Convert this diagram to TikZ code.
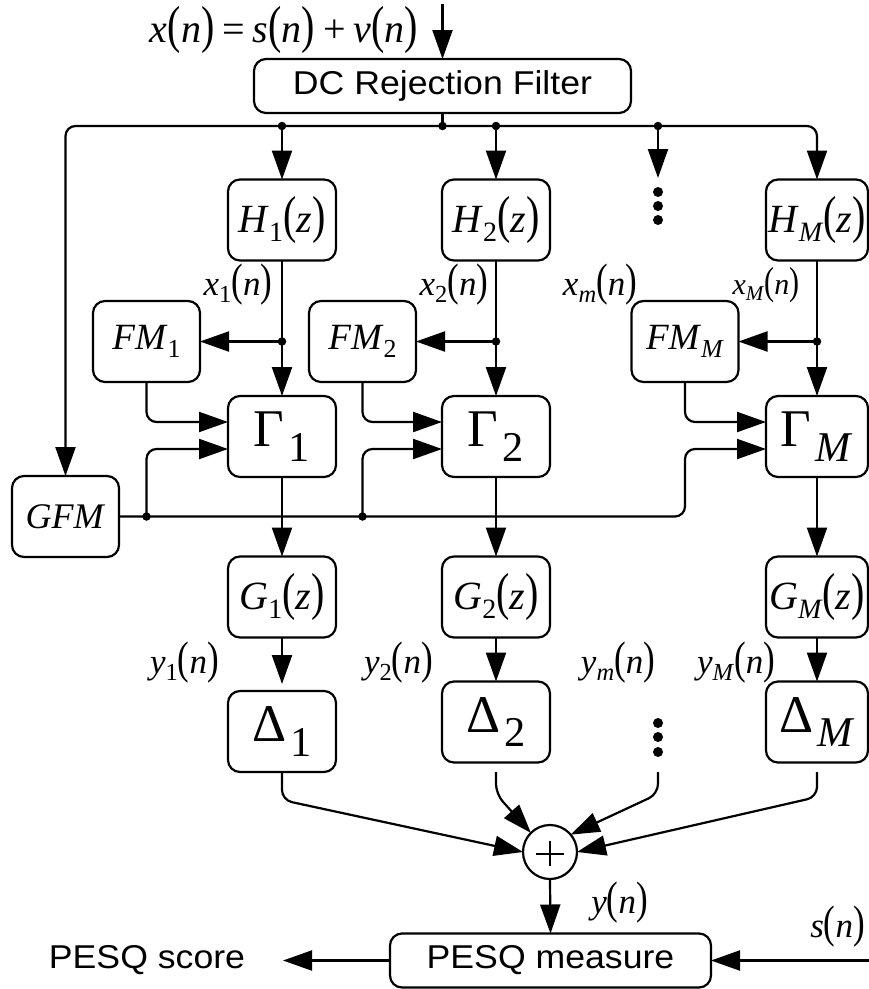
\documentclass[tikz,border=0pt]{standalone}
\usepackage{graphicx}
\usepackage{fontspec}
\setmainfont{Liberation Serif}
\newfontfamily\sansf[FakeStretch=1.08]{Liberation Sans}
\usetikzlibrary{arrows.meta}
\newcommand\lp{\scalebox{1}[1.3]{(}}
\newcommand\rp{\scalebox{1}[1.3]{)}}
\newcommand\sbs[1]{\raisebox{-0.22em}{\scalebox{0.7}{#1}}}
\newcommand\gsb[1]{\hspace{0.08em}\raisebox{-0.27em}{\scalebox{0.8}{#1}}}
\newcommand\iv[1]{\textit{#1}}
\newcommand\thsp{\hspace{0.2em}}
\begin{document}
\begin{tikzpicture}[x=1pt,y=-1pt,
 every node/.style={inner sep=0pt, outer sep=0pt},
 blk/.style={draw, line width=2.2pt, rounded corners=12pt, minimum width=108pt, minimum height=81pt, font=\fontsize{40}{44}\selectfont},
 fmblk/.style={blk, minimum width=107pt, font=\fontsize{37}{40}\selectfont},
 wide/.style={draw, line width=2.2pt, rounded corners=12pt, minimum height=54pt, font=\sansf\fontsize{33}{36}\selectfont},
 bigs/.style={font=\fontsize{53}{60}\selectfont},
 sig/.style={anchor=base, font=\fontsize{35}{38}\selectfont},
 conn/.style={line width=2.2pt, rounded corners=10pt},
 arr/.style={conn, -{Triangle[length=29pt,width=20pt]}},
 jdot/.style={circle, fill, minimum size=8.5pt},
 vdot/.style={circle, fill, minimum size=10pt},
]
\useasboundingbox (0,0) rectangle (869,989);

% level coordinates
\coordinate (ybus) at (0,126);
\coordinate (yfm) at (0,422);
\coordinate (yg) at (0,449);
\coordinate (yd1) at (0,684);
\coordinate (yb) at (0,772);

% top
\node[wide, minimum width=377pt] (dc) at (442.5,86) {DC Rejection Filter};
\node[anchor=base, font=\fontsize{40}{44}\selectfont] (xl) at (284,42)
  {\iv{x}\lp\iv{n}\rp\thsp=\thsp\iv{s}\lp\iv{n}\rp\thsp+\thsp\iv{v}\lp\iv{n}\rp};
\coordinate (in) at (442.5,4);
\draw[arr] (in) -- (dc.north);

% filter bank boxes
\node[blk] (h1) at (282,220) {\iv{H}\sbs{1}\lp\iv{z}\rp};
\node[blk] (h2) at (496,220) {\iv{H}\sbs{2}\lp\iv{z}\rp};
\node[blk, minimum width=102pt] (hM) at (817,220) {\iv{H}\sbs{\iv{M}}\lp\iv{z}\rp};

\node[fmblk] (fm1) at (146.5,341.5) {\iv{FM}\sbs{1}};
\node[fmblk] (fm2) at (362.5,341.5) {\iv{FM}\sbs{2}};
\node[fmblk] (fmM) at (685,341.5) {\iv{FM}\sbs{\iv{M}}};

\node[blk, bigs] (g1) at (282,436.5) {Γ\gsb{1}};
\node[blk, bigs] (g2) at (496,436.5) {Γ\gsb{2}};
\node[blk, bigs, minimum width=102pt] (gM) at (817,436.5) {Γ\gsb{\iv{M}}};

\node[fmblk, font=\fontsize{36}{40}\selectfont] (gfm) at (65.5,516.5) {\iv{GFM}};

\node[blk] (G1) at (282,597) {\iv{G}\sbs{1}\lp\iv{z}\rp};
\node[blk] (G2) at (496,597) {\iv{G}\sbs{2}\lp\iv{z}\rp};
\node[blk, minimum width=102pt] (GM) at (817,597) {\iv{G}\sbs{\iv{M}}\lp\iv{z}\rp};

\node[blk, bigs] (d1) at (282,731.5) {Δ\gsb{1}};
\node[blk, bigs] (d2) at (496,722) {Δ\gsb{2}};
\node[blk, bigs, minimum width=102pt] (dM) at (817,722) {Δ\gsb{\iv{M}}};

\node[draw, circle, line width=2.2pt, minimum size=54pt] (sum) at (550,852) {};
\draw[line width=1.6pt] ([xshift=-14pt,yshift=-2pt]sum.center) -- ([xshift=14pt,yshift=-2pt]sum.center);
\draw[line width=1.6pt] ([yshift=-14pt]sum.center) -- ([yshift=11pt]sum.center);

\node[wide, minimum width=321pt] (pesq) at (550.5,960.5) {PESQ measure};
\node[font=\sansf\fontsize{33}{36}\selectfont] (score) at (147,960.5) {PESQ score};

% signal labels
\node[sig] (lx1) at (238,295) {\iv{x}\sbs{1}\lp\iv{n}\rp};
\node[sig] (lx2) at (454,295) {\iv{x}\sbs{2}\lp\iv{n}\rp};
\node[sig] (lxm) at (600,295) {\iv{x}\sbs{\iv{m}}\lp\iv{n}\rp};
\node[sig, font=\fontsize{30}{34}\selectfont] (lxM) at (766,294) {\iv{x}\sbs{\iv{M}}\lp\iv{n}\rp};
\node[sig] (ly1) at (184.5,673) {\iv{y}\sbs{1}\lp\iv{n}\rp};
\node[sig] (ly2) at (398.5,673) {\iv{y}\sbs{2}\lp\iv{n}\rp};
\node[sig] (lym) at (618,673) {\iv{y}\sbs{\iv{m}}\lp\iv{n}\rp};
\node[sig] (lyM) at (736,673) {\iv{y}\sbs{\iv{M}}\lp\iv{n}\rp};
\node[sig] (ly) at (619.5,913) {\iv{y}\lp\iv{n}\rp};
\node[sig] (ls) at (837.5,937) {\iv{s}\lp\iv{n}\rp};

% distribution bus
\coordinate (bus) at (dc.south |- ybus);
\coordinate (dcol) at (658,126);
\draw[conn] (dc.south) -- (bus);
\draw[arr] (bus) -- (gfm.north |- ybus) -- (gfm.north);
\draw[arr] (bus) -- (hM.north |- ybus) -- (hM.north);
\draw[arr] (h1.north |- ybus) -- (h1.north);
\draw[arr] (h2.north |- ybus) -- (h2.north);
\coordinate (dtip) at (658,178);
\draw[arr] (dcol) -- (dtip);
\node[jdot] at (bus) {};
\node[jdot] at (h1.north |- ybus) {};
\node[jdot] at (h2.north |- ybus) {};
\node[jdot] at (dcol) {};
\node[vdot] (e1) at (658,192) {};
\node[vdot] (e2) at (658,206) {};
\node[vdot] (e3) at (658,220) {};

% H -> Gamma with taps to FM
\draw[arr] (h1.south) -- (g1.north);
\draw[arr] (h2.south) -- (g2.north);
\draw[arr] (hM.south) -- (gM.north);
\draw[arr] (h1.south |- fm1.east) -- (fm1.east);
\draw[arr] (h2.south |- fm2.east) -- (fm2.east);
\draw[arr] (hM.south |- fmM.east) -- (fmM.east);
\node[jdot] at (h1.south |- fm1.east) {};
\node[jdot] at (h2.south |- fm2.east) {};
\node[jdot] at (hM.south |- fmM.east) {};

% FM -> Gamma
\draw[arr] (fm1.south) -- (fm1.south |- yfm) -- (g1.west |- yfm);
\draw[arr] (fm2.south) -- (fm2.south |- yfm) -- (g2.west |- yfm);
\draw[arr] (fmM.south) -- (fmM.south |- yfm) -- (gM.west |- yfm);

% GFM -> Gamma
\draw[arr] (gfm.east) -- (fmM.south |- gfm.east) -- (fmM.south |- yg) -- (gM.west |- yg);
\draw[arr] (fm1.south |- gfm.east) -- (fm1.south |- yg) -- (g1.west |- yg);
\draw[arr] (fm2.south |- gfm.east) -- (fm2.south |- yg) -- (g2.west |- yg);
\node[jdot] at (fm1.south |- gfm.east) {};
\node[jdot] at (fm2.south |- gfm.east) {};

% Gamma -> G -> Delta
\draw[arr] (g1.south) -- (G1.north);
\draw[arr] (g2.south) -- (G2.north);
\draw[arr] (gM.south) -- (GM.north);
\draw[arr] (G1.south) -- (G1.south |- yd1);
\draw[arr] (G2.south) -- (d2.north);
\draw[arr] (GM.south) -- (dM.north);

% lower ellipsis
\node[vdot] (f1) at (658,723) {};
\node[vdot] (f2) at (658,737) {};
\node[vdot] (f3) at (658,752) {};

% Delta -> sum
\coordinate (b3) at (658,772);
\draw[arr] (d1.south) -- (282,800) -- (sum.west);
\draw[arr] (d2.south |- yb) -- (496,794) -- (sum.135);
\draw[arr] (b3) -- (658,794) -- (sum.40);
\draw[arr] (dM.south |- yb) -- (817,797) -- (sum.east);

% PESQ
\draw[arr] (sum.south) -- (pesq.north);
\coordinate (sctip) at (283,960.5);
\draw[arr] (pesq.west) -- (sctip);
\coordinate (sin) at (869,960.5);
\draw[arr] (sin) -- (pesq.east);
\end{tikzpicture}
\end{document}
